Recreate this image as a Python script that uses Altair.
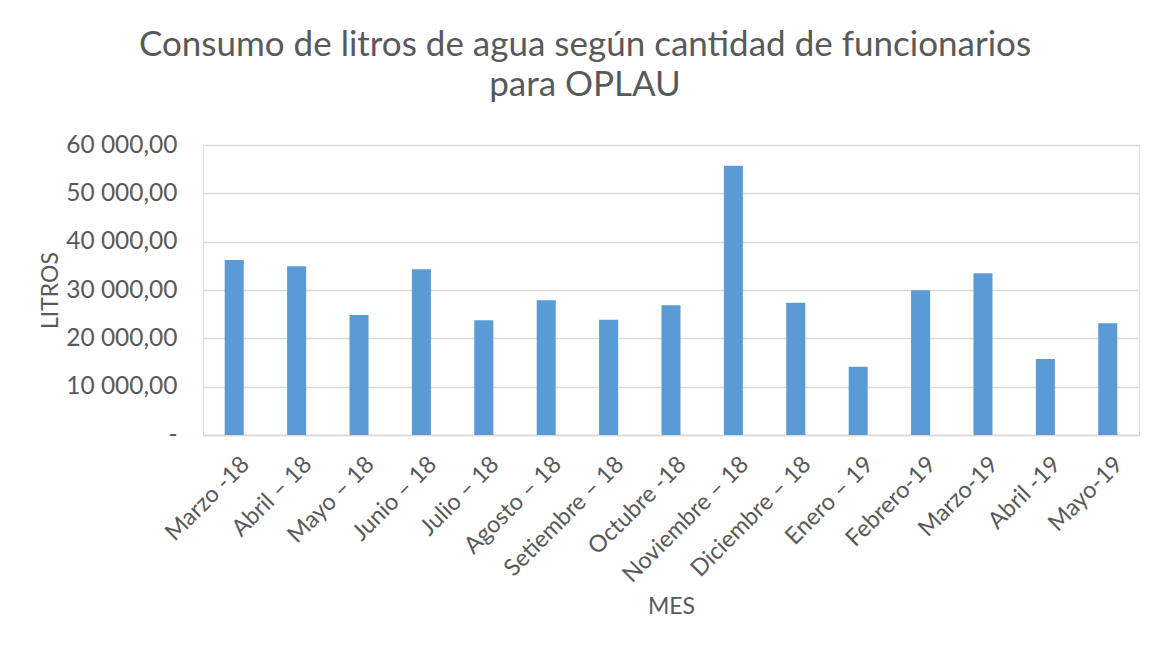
import altair as alt
import pandas as pd

meses = ["Marzo -18", "Abril – 18", "Mayo – 18", "Junio – 18", "Julio – 18",
         "Agosto – 18", "Setiembre – 18", "Octubre -18", "Noviembre – 18",
         "Diciembre – 18", "Enero – 19", "Febrero-19", "Marzo-19", "Abril -19", "Mayo-19"]
litros = [36200, 34900, 24850, 34300, 23750, 27900, 23850, 26850, 55700,
          27350, 14100, 29950, 33450, 15750, 23100]
y_ticks = [0, 10000, 20000, 30000, 40000, 50000, 60000]

titulo = ["Consumo de litros de agua según cantidad de funcionarios", "para OPLAU"]

df = pd.DataFrame({"mes": meses, "litros": litros})

FONT = "Lato"
GREY = "#595959"

chart = alt.Chart(df).mark_bar(color="#5b9bd5").encode(
    x=alt.X("mes:N", sort=meses, title="MES",
            scale=alt.Scale(paddingInner=0.695, paddingOuter=0.348),
            axis=alt.Axis(labelAngle=-45, labelFontSize=23.5, labelColor=GREY, labelFont=FONT,
                          labelPadding=17, labelOffset=3, ticks=False, domainColor="#d9d9d9", domainWidth=1.3,
                          titleFont=FONT, titleFontSize=23, titleColor=GREY, titleFontWeight="normal",
                          titleX=468, titleY=171, titleBaseline="middle")),
    y=alt.Y("litros:Q", title="LITROS",
            scale=alt.Scale(domain=[0, 60000], nice=False),
            axis=alt.Axis(values=y_ticks, grid=True, gridColor="#d9d9d9", gridWidth=1.3,
                          domain=False, ticks=False, labelPadding=26,
                          labelExpr="datum.value == 0 ? '-    ' : replace(replace(format(datum.value, ',.2f'), ',', ' '), '.', ',')",
                          labelFontSize=24.5, labelColor=GREY, labelFont=FONT,
                          titleFont=FONT, titleFontSize=23, titleColor=GREY, titleFontWeight="normal",
                          titleX=-153, titleY=145, titleBaseline="middle", titleAngle=-90)),
).properties(
    width=936, height=290,
    autosize=alt.AutoSizeParams(type="none"),
    padding={"left": 195, "top": 137, "right": 20, "bottom": 212},
    title=alt.Title(titulo, font=FONT, fontSize=35, color=GREY, fontWeight="normal",
                    anchor="middle", dx=-86, offset=29, lineHeight=40),
).configure_view(stroke=None).configure(background="white")

chart.save("out.html", embed_options={"renderer": "svg", "actions": False})
